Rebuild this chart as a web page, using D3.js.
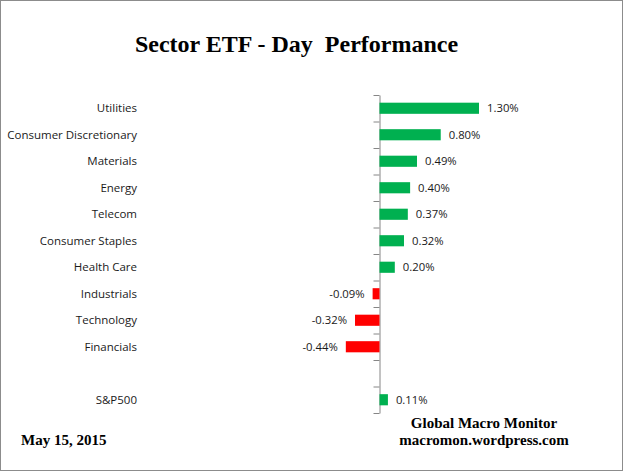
<!DOCTYPE html>
<html><head><meta charset="utf-8">
<script src="https://cdn.jsdelivr.net/npm/d3@7"></script>
<style>body{margin:0;background:#fff}svg{display:block}</style>
</head><body>
<svg id="c" width="625" height="474"></svg>
<script>
const categories = ["Utilities","Consumer Discretionary","Materials","Energy","Telecom","Consumer Staples","Health Care","Industrials","Technology","Financials","","S&P500"];
const values = [1.30,0.80,0.49,0.40,0.37,0.32,0.20,-0.09,-0.32,-0.44,null,0.11];
const valueLabels = ["1.30%","0.80%","0.49%","0.40%","0.37%","0.32%","0.20%","-0.09%","-0.32%","-0.44%","","0.11%"];
const title = "Sector ETF - Day\u00a0 Performance";
const dateText = "May 15, 2015";
const credit = ["Global Macro Monitor","macromon.wordpress.com"];

const svg = d3.select("#c");
svg.append("rect").attr("x",0.5).attr("y",0.5).attr("width",622).attr("height",470)
  .attr("fill","#fff").attr("stroke","#8c8c8c").attr("stroke-width",1);

const keys = categories.map((c,i)=>i);
const y = d3.scaleBand().domain(keys).range([95,413]).paddingInner(0.58).paddingOuter(0.29);
const x = d3.scaleLinear().domain([0,1.30]).range([379.5,479]);

const ty = d3.scaleLinear().domain([0,categories.length]).range([95,413]);
const axis = svg.append("g").attr("transform",`translate(${x(0)},0)`)
  .call(d3.axisLeft(ty).tickValues(d3.range(categories.length+1)).tickSize(6).tickSizeOuter(0).tickFormat(""));
axis.selectAll("path,line").attr("stroke","#868686");

const data = categories.map((c,i)=>({c,i,v:values[i],l:valueLabels[i]}));
const bd = data.filter(d=>d.v!==null);

svg.append("g").selectAll("rect").data(bd).join("rect")
  .attr("x",d=>Math.min(x(0),x(d.v)))
  .attr("width",d=>Math.abs(x(d.v)-x(0)))
  .attr("y",d=>y(d.i)).attr("height",y.bandwidth())
  .attr("fill",d=>d.v>=0?"#00B050":"#FF0000");

svg.append("g").selectAll("text").data(bd).join("text")
  .attr("x",d=>d.v>=0?x(d.v)+8:x(d.v)-8)
  .attr("y",d=>y(d.i)+y.bandwidth()/2)
  .attr("dy","0.35em")
  .attr("text-anchor",d=>d.v>=0?"start":"end")
  .attr("font-family","Open Sans, sans-serif").attr("font-size",11.3).attr("fill","#1a1a1a")
  .text(d=>d.l);

svg.append("g").selectAll("text").data(data).join("text")
  .attr("x",137)
  .attr("y",d=>y(d.i)+y.bandwidth()/2)
  .attr("dy","0.35em")
  .attr("text-anchor","end")
  .attr("font-family","Open Sans, sans-serif").attr("font-size",11.5).attr("fill","#1a1a1a")
  .text(d=>d.c);

svg.append("text").attr("x",296.5).attr("y",52).attr("text-anchor","middle")
  .attr("font-family","Liberation Serif, Times New Roman, serif").attr("font-weight","bold")
  .attr("font-size",24).attr("fill","#000").text(title);

svg.append("text").attr("x",21).attr("y",445)
  .attr("font-family","Liberation Serif, serif").attr("font-weight","bold")
  .attr("font-size",15).attr("fill","#000").text(dateText);

svg.append("g").selectAll("text").data(credit).join("text")
  .attr("x",484).attr("y",(d,i)=>428+i*17).attr("text-anchor","middle")
  .attr("font-family","Liberation Serif, serif").attr("font-weight","bold")
  .attr("font-size",15).attr("fill","#000").text(d=>d);
</script>
</body></html>
